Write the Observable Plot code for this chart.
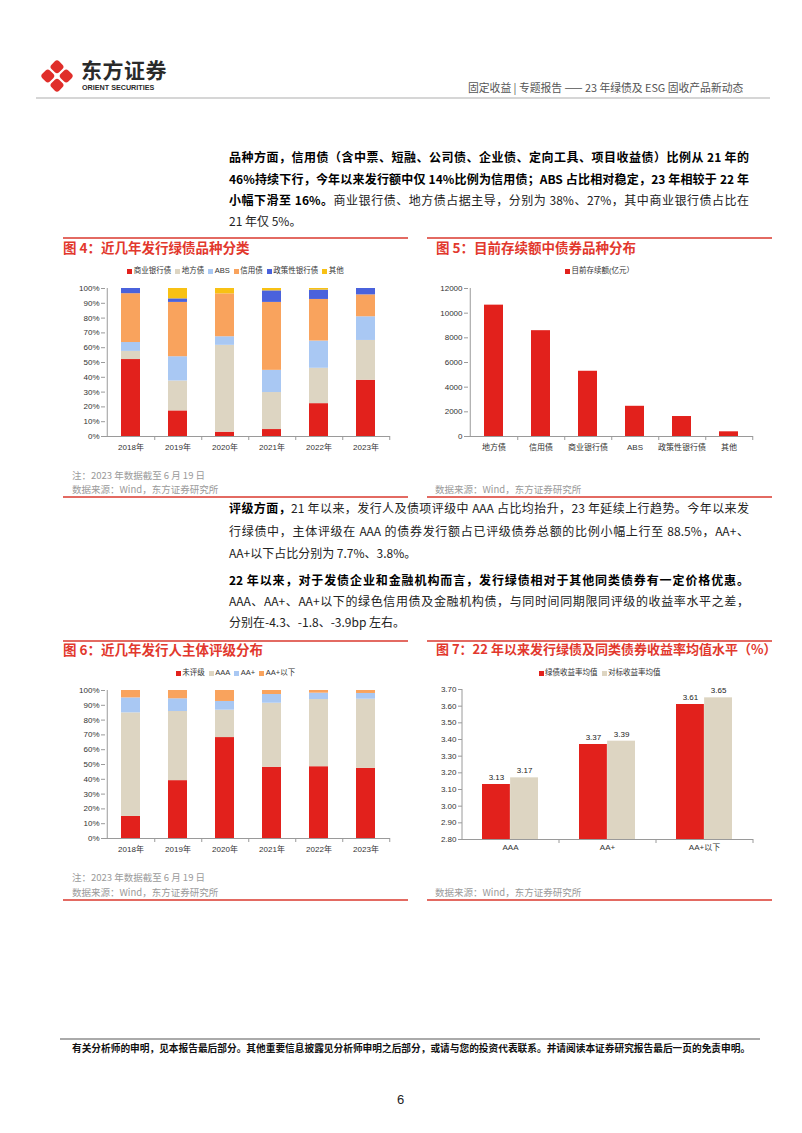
<!DOCTYPE html>
<html><head><meta charset="utf-8">
<script src="https://cdn.jsdelivr.net/npm/d3@7"></script>
<script src="https://cdn.jsdelivr.net/npm/@observablehq/plot@0.6"></script>
<style>
html,body{margin:0;padding:0;background:#fff}
body{width:802px;height:1133px;position:relative;overflow:hidden;font-family:"Noto Sans CJK SC","Noto Sans",sans-serif}
.a{position:absolute;white-space:nowrap}
.line{position:absolute;left:229px;width:520px;font-size:12px;line-height:16px;color:#222;text-align:justify;text-align-last:justify;white-space:normal}
.line.last{text-align-last:left}
.b{font-weight:bold;color:#000}
.ttl{position:absolute;font-size:13.5px;font-weight:bold;color:#e2382d;line-height:16px;white-space:nowrap}
.rl{position:absolute;height:1.5px;background:#e36a62}
.note{position:absolute;font-size:9.5px;color:#9a9a9a;line-height:12px;white-space:nowrap}
.lg{position:absolute;font-family:"Liberation Sans","Noto Sans CJK SC",sans-serif;font-size:7.5px;color:#333;display:flex;justify-content:center;gap:4px;line-height:10px}
.lg span{display:inline-flex;align-items:center;white-space:nowrap}
.lg i{display:inline-block;width:5px;height:5px;margin-right:1.5px}
svg.plot{position:absolute}
</style></head><body>
<script>
// ---------- data ----------
const years = ["2018年","2019年","2020年","2021年","2022年","2023年"];
// 图4 发行绿债品种分类 (%)
const typeSeries = ["商业银行债","地方债","ABS","信用债","政策性银行债","其他"];
const commercialBank = [52.0, 17.3, 2.9, 4.7, 22.2, 38.0];
const localGov      = [5.5, 20.2, 58.7, 25.0, 23.9, 26.9];
const absShare      = [6.0, 16.4, 5.8, 15.0, 18.4, 16.0];
const creditBond    = [33.0, 36.7, 29.0, 45.9, 28.1, 14.8];
const policyBank    = [3.5, 2.4, 0.0, 7.8, 6.3, 4.3];
const otherShare    = [0.0, 7.0, 3.6, 1.6, 1.1, 0.0];
// 图5 目前存续额(亿元)
const stockCats = ["地方债","信用债","商业银行债","ABS","政策性银行债","其他"];
const stockVals = [10650, 8580, 5290, 2450, 1620, 380];
// 图6 发行人主体评级分布 (%)
const ratingSeries = ["未评级","AAA","AA+","AA+以下"];
const unrated  = [14.9, 39.1, 68.2, 48.1, 48.5, 47.4];
const ratedAAA = [70.0, 46.7, 18.5, 43.3, 45.4, 46.7];
const ratedAAp = [10.1, 8.6, 5.9, 5.9, 4.3, 3.9];
const belowAAp = [5.0, 5.6, 7.4, 2.7, 1.8, 2.0];
// 图7 收益率均值水平 (%)
const yieldCats = ["AAA","AA+","AA+以下"];
const yieldSeries = ["绿债收益率均值","对标收益率均值"];
const greenYield = [3.13, 3.37, 3.61];
const benchYield = [3.17, 3.39, 3.65];
// tick labels
const pctTicks = [0,10,20,30,40,50,60,70,80,90,100];
const stockTicks = [0,2000,4000,6000,8000,10000,12000];
const yieldTicks = [2.8,2.9,3.0,3.1,3.2,3.3,3.4,3.5,3.6,3.7];

// ---------- colours ----------
const RED="#e2211c", BEIGE="#ddd5c2", LBLUE="#a9c8f3", ORANGE="#f9a35d", BLUE="#4a62dc", YELLOW="#f8c114";
const typeColors = [RED,BEIGE,LBLUE,ORANGE,BLUE,YELLOW];
const ratingColors = [RED,BEIGE,LBLUE,ORANGE];
const yieldColors = [RED,BEIGE];

// ---------- page helpers ----------
function el(tag, cls, style, html){const e=document.createElement(tag); if(cls) e.className=cls; Object.assign(e.style, style||{}); if(html!=null) e.innerHTML=html; document.body.appendChild(e); return e;}
function legend(names, colors, left, top, width){
  const d = el("div","lg",{left:left+"px",top:top+"px",width:width+"px"});
  names.forEach((n,i)=>{const s=document.createElement("span"); s.innerHTML=`<i style="background:${colors[i]}"></i>${n}`; d.appendChild(s);});
}
const axisStyle = {fontSize:"8px", fontFamily:"'Liberation Sans','Noto Sans CJK SC',sans-serif", color:"#333", background:"transparent", overflow:"visible"};
function place(svg,left,top){svg.classList.add("plot"); svg.style.left=left+"px"; svg.style.top=top+"px"; document.body.appendChild(svg);}

// ---------- header ----------
el("div","a",{left:"39px",top:"58px"},`<svg width="36" height="36" viewBox="-13 -13 26 26"><g transform="rotate(45)" fill="#e02e2a">
<rect x="-8.6" y="-8.6" width="7.8" height="7.8" rx="2.2"/><rect x="0.8" y="-8.6" width="7.8" height="7.8" rx="2.2"/>
<rect x="-8.6" y="0.8" width="7.8" height="7.8" rx="2.2"/><rect x="0.8" y="0.8" width="7.8" height="7.8" rx="2.2"/></g></svg>`);
el("div","a",{left:"81px",top:"58px",fontSize:"21px",fontWeight:"bold",color:"#2a2a2a",letterSpacing:"0.5px",lineHeight:"23px"},"东方证券");
el("div","a",{left:"82px",top:"83px",fontSize:"7.2px",fontWeight:"bold",color:"#2a2a2a",fontFamily:"'Liberation Sans',sans-serif",lineHeight:"9px"},"ORIENT SECURITIES");
el("div","a",{left:"468px",top:"80px",fontSize:"10.8px",color:"#555",lineHeight:"14px"},"固定收益 | 专题报告 —— 23 年绿债及 ESG 固收产品新动态");
el("div","a",{left:"36px",top:"97px",width:"734px",height:"2px",background:"#d6d6d6"});

// ---------- paragraphs ----------
function line(top, html, last){ el("div","line"+(last?" last":""),{top:top+"px"},html); }
line(149,'<span class="b">品种方面，信用债（含中票、短融、公司债、企业债、定向工具、项目收益债）比例从 21 年的</span>');
line(171,'<span class="b">46%持续下行，今年以来发行额中仅 14%比例为信用债；ABS 占比相对稳定，23 年相较于 22 年</span>');
line(192,'<span class="b">小幅下滑至 16%。</span>商业银行债、地方债占据主导，分别为 38%、27%，其中商业银行债占比在');
line(213,'21 年仅 5%。',true);
line(500,'<span class="b">评级方面，</span>21 年以来，发行人及债项评级中 AAA 占比均抬升，23 年延续上行趋势。今年以来发');
line(523,'行绿债中，主体评级在 AAA 的债券发行额占已评级债券总额的比例小幅上行至 88.5%，AA+、');
line(545,'AA+以下占比分别为 7.7%、3.8%。',true);
line(572,'<span class="b">22 年以来，对于发债企业和金融机构而言，发行绿债相对于其他同类债券有一定价格优惠。</span>');
line(593,'AAA、AA+、AA+以下的绿色信用债及金融机构债，与同时间同期限同评级的收益率水平之差，');
line(614,'分别在-4.3、-1.8、-3.9bp 左右。',true);

// ---------- panels frame ----------
[[63,237,345],[427,237,345],[63,640,345],[427,640,345],[63,496,345],[427,496,345],[63,899,345],[427,899,345]]
  .forEach(([l,t,w])=>el("div","rl",{left:l+"px",top:t+"px",width:w+"px"}));
el("div","ttl",{left:"63px",top:"239px"},"图 4：近几年发行绿债品种分类");
el("div","ttl",{left:"436px",top:"239px"},"图 5：目前存续额中债券品种分布");
el("div","ttl",{left:"63px",top:"641px"},"图 6：近几年发行人主体评级分布");
el("div","ttl",{left:"436px",top:"641px",fontSize:"13px"},"图 7：22 年以来发行绿债及同类债券收益率均值水平（%）");
el("div","note",{left:"72px",top:"469px"},"注：2023 年数据截至 6 月 19 日");
el("div","note",{left:"72px",top:"483px"},"数据来源：Wind，东方证券研究所");
el("div","note",{left:"435px",top:"483px"},"数据来源：Wind，东方证券研究所");
el("div","note",{left:"72px",top:"871px"},"注：2023 年数据截至 6 月 19 日");
el("div","note",{left:"72px",top:"886px"},"数据来源：Wind，东方证券研究所");
el("div","note",{left:"435px",top:"886px"},"数据来源：Wind，东方证券研究所");

// ---------- footer ----------
el("div","a",{left:"60px",top:"1038px",width:"700px",height:"1.5px",background:"#aaa"});
el("div","a",{left:"72px",top:"1042px",fontSize:"9.7px",fontWeight:"bold",color:"#111",lineHeight:"13px"},"有关分析师的申明，见本报告最后部分。其他重要信息披露见分析师申明之后部分，或请与您的投资代表联系。并请阅读本证券研究报告最后一页的免责申明。");
el("div","a",{left:"397px",top:"1091px",fontSize:"13px",color:"#222",lineHeight:"18px",fontFamily:"'Liberation Sans',sans-serif"},"6");

// ---------- chart builders ----------
const AX="#9a9a9a";
function stacked100(cats, seriesNames, seriesArrays, colors){
  const rows=[]; seriesNames.forEach((s,i)=>cats.forEach((c,j)=>rows.push({cat:c, series:s, value:seriesArrays[i][j]})));
  const W=340, ml=42, mr=13;
  const step=(W-ml-mr)/cats.length;
  return Plot.plot({
    width:W, height:175, marginLeft:ml, marginRight:mr, marginTop:8, marginBottom:19,
    style:axisStyle,
    x:{domain:cats, paddingInner:0.6, paddingOuter:0.3, label:null},
    y:{domain:[0,100], label:null},
    color:{domain:seriesNames, range:colors},
    marks:[
      Plot.barY(rows,{x:"cat", y:"value", fill:"series"}),
      Plot.ruleX([cats[0]],{x:d=>d, dx:-step/2, stroke:AX}),
      Plot.ruleY([0],{stroke:AX}),
      Plot.ruleX(cats,{x:d=>d, dx:step/2, y1:0, y2:0, insetBottom:-4, stroke:AX}),
      Plot.axisY({ticks:pctTicks, tickFormat:d=>d+"%", tickSize:4, tickPadding:2, stroke:AX, label:null}),
      Plot.axisX({tickSize:0, tickPadding:8, label:null})
    ]
  });
}

// 图4
legend(typeSeries, typeColors, 63, 266, 345);
place(stacked100(years, typeSeries, [commercialBank,localGov,absShare,creditBond,policyBank,otherShare], typeColors), 63, 280);

// 图5
legend(["目前存续额(亿元）"], [RED], 427, 266, 345);
{
  const W=340, ml=41, mr=14, step=(W-ml-mr)/stockCats.length;
  const svg = Plot.plot({
    width:W, height:175, marginLeft:ml, marginRight:mr, marginTop:8, marginBottom:19,
    style:axisStyle,
    x:{domain:stockCats, paddingInner:0.6, paddingOuter:0.3, label:null},
    y:{domain:[0,12000], label:null},
    marks:[
      Plot.barY(stockCats,{x:d=>d, y:(d,i)=>stockVals[i], fill:RED}),
      Plot.ruleX([stockCats[0]],{x:d=>d, dx:-step/2, stroke:AX}),
      Plot.ruleY([0],{stroke:AX}),
      Plot.ruleX(stockCats,{x:d=>d, dx:step/2, y1:0, y2:0, insetBottom:-4, stroke:AX}),
      Plot.axisY({ticks:stockTicks, tickFormat:d=>String(d), tickSize:4, tickPadding:2, stroke:AX, label:null}),
      Plot.axisX({tickSize:0, tickPadding:8, label:null})
    ]
  });
  place(svg, 427, 280);
}

// 图6
legend(ratingSeries, ratingColors, 63, 668, 345);
place(stacked100(years, ratingSeries, [unrated,ratedAAA,ratedAAp,belowAAp], ratingColors), 63, 682);

// 图7
legend(yieldSeries, yieldColors, 427, 668, 345);
{
  const W=340, ml=35, mr=14, n=yieldCats.length;
  const step=(W-ml-mr)/n, pin=0.42, bw=step*(1-pin), half=bw/2;
  const rows=[]; yieldCats.forEach((c,i)=>{rows.push({cat:c, s:0, v:greenYield[i]}); rows.push({cat:c, s:1, v:benchYield[i]});});
  const svg = Plot.plot({
    width:W, height:178, marginLeft:ml, marginRight:mr, marginTop:9, marginBottom:19,
    style:axisStyle,
    x:{domain:yieldCats, paddingInner:pin, paddingOuter:pin/2, label:null},
    y:{domain:[2.8,3.7], label:null},
    marks:[
      Plot.barY(rows.filter(d=>d.s===0),{x:"cat", y1:2.8, y2:"v", fill:yieldColors[0], insetRight:half}),
      Plot.barY(rows.filter(d=>d.s===1),{x:"cat", y1:2.8, y2:"v", fill:yieldColors[1], insetLeft:half}),
      Plot.text(rows.filter(d=>d.s===0),{x:"cat", y:"v", text:d=>d.v.toFixed(2), dx:-half/2, dy:-7, fill:"#222"}),
      Plot.text(rows.filter(d=>d.s===1),{x:"cat", y:"v", text:d=>d.v.toFixed(2), dx:half/2, dy:-7, fill:"#222"}),
      Plot.ruleX([yieldCats[0]],{x:d=>d, dx:-step/2, stroke:AX}),
      Plot.ruleY([2.8],{stroke:AX}),
      Plot.ruleX(yieldCats,{x:d=>d, dx:step/2, y1:2.8, y2:2.8, insetBottom:-4, stroke:AX}),
      Plot.axisY({ticks:yieldTicks, tickFormat:d=>d.toFixed(2), tickSize:4, tickPadding:2, stroke:AX, label:null}),
      Plot.axisX({tickSize:0, tickPadding:5, label:null})
    ]
  });
  place(svg, 427, 680);
}
</script>
</body></html>
